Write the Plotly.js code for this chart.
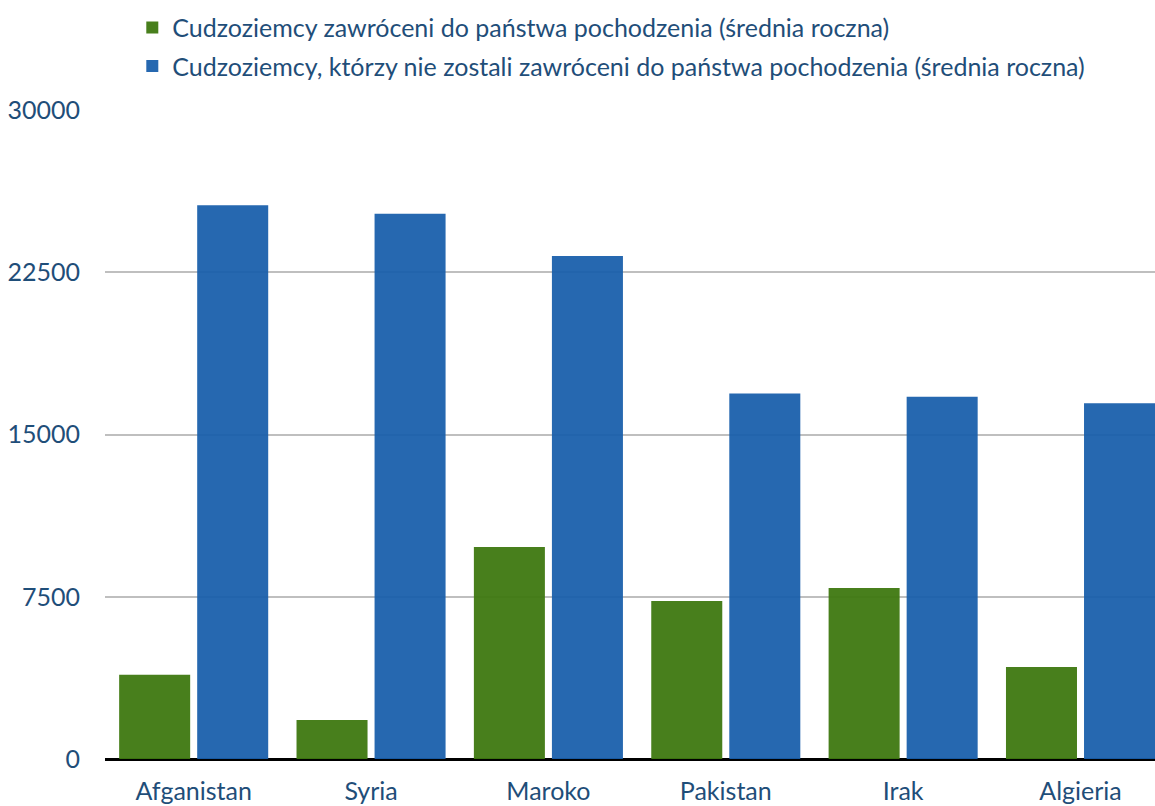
<!DOCTYPE html>
<html>
<head>
<meta charset="utf-8">
<script src="https://cdn.plot.ly/plotly-3.0.1.min.js"></script>
<style>html,body{margin:0;padding:0;background:#fff;}#chart{width:1155px;height:806px;}</style>
</head>
<body>
<div id="chart"></div>
<script>
const categories = ["Afganistan", "Syria", "Maroko", "Pakistan", "Irak", "Algieria"];
const returnedValues = [3900, 1800, 9800, 7300, 7900, 4250];
const notReturnedValues = [25600, 25200, 23250, 16900, 16750, 16450];
const seriesNames = [
  "Cudzoziemcy zawróceni do państwa pochodzenia (średnia roczna)",
  "Cudzoziemcy, którzy nie zostali zawróceni do państwa pochodzenia (średnia roczna)"
];
const yTicks = [0, 7500, 15000, 22500, 30000];

const textColor = "#1f4e79";
const fontFamily = "Lato, 'Open Sans', sans-serif";

const traces = [
  {type: "bar", x: categories, y: returnedValues, name: seriesNames[0], legendgroup: "a",
   marker: {color: "rgba(62,120,16,0.95)"}},
  {type: "bar", x: categories, y: notReturnedValues, name: seriesNames[1], legendgroup: "b",
   marker: {color: "rgba(24,95,171,0.94)"}}
];

const layout = {
  width: 1155, height: 806,
  margin: {l: 105, r: 0, t: 110, b: 47, pad: 0, autoexpand: false},
  paper_bgcolor: "#fff", plot_bgcolor: "#fff",
  font: {family: fontFamily, size: 25, color: textColor},
  barmode: "group",
  bargap: 0.12,
  bargroupgap: 0.09,
  showlegend: true,
  legend: {
    x: 0.026, y: 1.162, xanchor: "left", yanchor: "top",
    orientation: "v", traceorder: "grouped", tracegroupgap: 3,
    font: {family: fontFamily, size: 25, color: textColor},
    bgcolor: "rgba(0,0,0,0)", itemwidth: 30
  },
  xaxis: {
    type: "category",
    range: [-0.5, 5.42],
    showgrid: false, zeroline: false, showline: false,
    ticks: "", ticklabelstandoff: 15,
    tickfont: {family: fontFamily, size: 25, color: textColor},
    fixedrange: true
  },
  yaxis: {
    range: [0, 30000],
    tickvals: yTicks, ticktext: yTicks.map(String),
    showgrid: true, gridcolor: "#bfbfbf", gridwidth: 2,
    zeroline: true, zerolinecolor: "#000", zerolinewidth: 3,
    showline: false, ticks: "", ticklabelstandoff: 24,
    tickfont: {family: fontFamily, size: 25, color: textColor},
    fixedrange: true
  }
};

Plotly.newPlot("chart", traces, layout, {displayModeBar: false, staticPlot: true});
</script>
</body>
</html>
